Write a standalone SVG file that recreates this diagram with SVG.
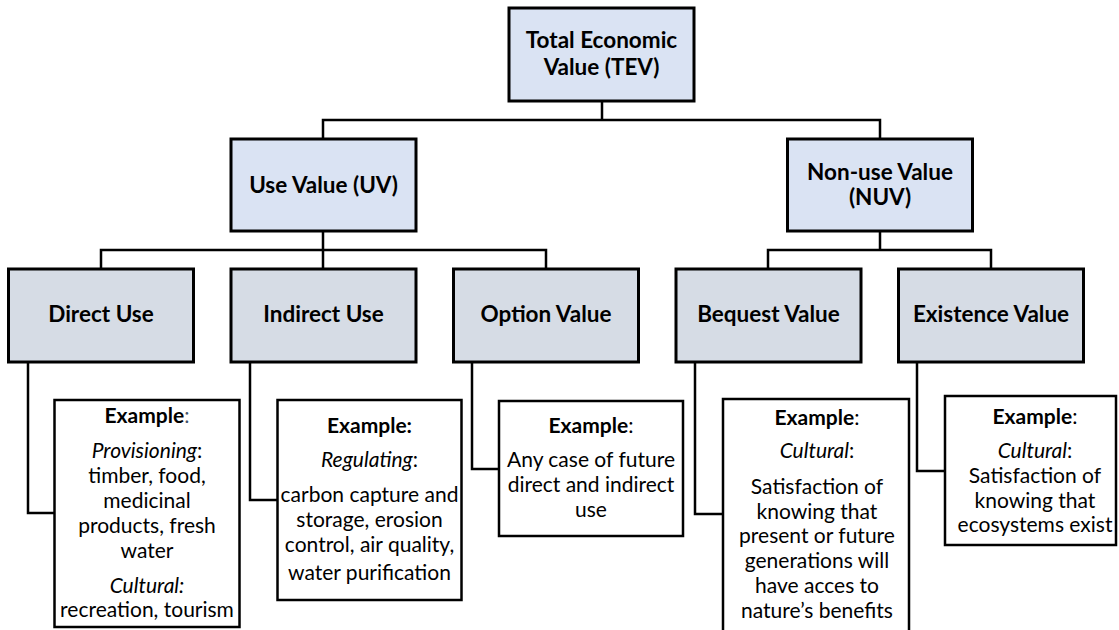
<svg xmlns="http://www.w3.org/2000/svg" width="1119" height="630" viewBox="0 0 1119 630">
<style>
.b1{fill:#dae3f3;stroke:#000;stroke-width:3}
.b2{fill:#d6dce5;stroke:#000;stroke-width:3}
.ex{fill:#fff;stroke:#000;stroke-width:2.5}
.c{fill:none;stroke:#000;stroke-width:2.5}
.h{font-family:Lato,"Liberation Sans",sans-serif;font-weight:bold;font-size:22.5px;fill:#000;text-anchor:middle}
.t{font-family:Lato,"Liberation Sans",sans-serif;font-size:21px;fill:#000;text-anchor:middle}
.bd{font-weight:bold}
.it{font-style:italic}
</style>
<rect width="1119" height="630" fill="#fff"/>
<g id="connectors">
<path class="c" d="M602,101V120M323,139V120H880V139"/>
<path class="c" d="M323,231V250M101,269V250H546V269M323,250V269"/>
<path class="c" d="M880,231V250M768,269V250H991V269"/>
<path class="c" d="M28,362V513H55"/>
<path class="c" d="M250,362V500H278"/>
<path class="c" d="M472,362V469H499"/>
<path class="c" d="M695,362V514H723"/>
<path class="c" d="M917,362V471H945"/>
</g>
<g id="tev"><rect class="b1" x="509" y="8" width="185" height="93"/>
<text class="h" x="601.5" y="48">Total Economic</text><text class="h" x="601.5" y="75">Value (TEV)</text></g>
<g id="uv"><rect class="b1" x="231" y="139" width="185" height="92"/>
<text class="h" x="323.5" y="192.5">Use Value (UV)</text></g>
<g id="nuv"><rect class="b1" x="787.5" y="139" width="185" height="92"/>
<text class="h" x="880" y="180">Non-use Value</text><text class="h" x="880" y="205">(NUV)</text></g>
<g id="direct"><rect class="b2" x="8.5" y="269" width="185" height="93"/>
<text class="h" x="101" y="322">Direct Use</text></g>
<g id="indirect"><rect class="b2" x="231" y="269" width="185" height="93"/>
<text class="h" x="323.5" y="322">Indirect Use</text></g>
<g id="option"><rect class="b2" x="453.5" y="269" width="185" height="93"/>
<text class="h" x="546" y="322">Option Value</text></g>
<g id="bequest"><rect class="b2" x="676" y="269" width="185" height="93"/>
<text class="h" x="768.5" y="322">Bequest Value</text></g>
<g id="existence"><rect class="b2" x="898.5" y="269" width="185" height="93"/>
<text class="h" x="991" y="322">Existence Value</text></g>
<g id="ex-direct"><rect class="ex" x="54.5" y="400" width="185" height="227"/>
<text class="t" x="147" y="423"><tspan class="bd">Example</tspan><tspan fill="#44546a">:</tspan></text>
<text class="t" x="147" y="458"><tspan class="it">Provisioning</tspan>:</text>
<text class="t" x="147" y="483">timber, food,</text>
<text class="t" x="147" y="508">medicinal</text>
<text class="t" x="147" y="533">products, fresh</text>
<text class="t" x="147" y="558">water</text>
<text class="t it" x="147" y="593">Cultural:</text>
<text class="t" x="147" y="617">recreation, tourism</text></g>
<g id="ex-indirect"><rect class="ex" x="277.5" y="400" width="184" height="200"/>
<text class="t bd" x="369.5" y="432.5">Example:</text>
<text class="t" x="369.5" y="466.5"><tspan class="it">Regulating</tspan>:</text>
<text class="t" x="369.5" y="501.5">carbon capture and</text>
<text class="t" x="369.5" y="526.5">storage, erosion</text>
<text class="t" x="369.5" y="551.5">control, air quality,</text>
<text class="t" x="369.5" y="580">water purification</text></g>
<g id="ex-option"><rect class="ex" x="499" y="401" width="184" height="135"/>
<text class="t" x="591" y="433"><tspan class="bd">Example</tspan>:</text>
<text class="t" x="591" y="466.5">Any case of future</text>
<text class="t" x="591" y="492">direct and indirect</text>
<text class="t" x="591" y="516.5">use</text></g>
<g id="ex-bequest"><rect class="ex" x="723" y="399" width="186" height="245"/>
<text class="t" x="817" y="425"><tspan class="bd">Example</tspan>:</text>
<text class="t" x="817" y="458"><tspan class="it">Cultural</tspan>:</text>
<text class="t" x="817" y="494">Satisfaction of</text>
<text class="t" x="817" y="519">knowing that</text>
<text class="t" x="817" y="543">present or future</text>
<text class="t" x="817" y="568">generations will</text>
<text class="t" x="817" y="593">have acces to</text>
<text class="t" x="817" y="618">nature’s benefits</text></g>
<g id="ex-existence"><rect class="ex" x="945" y="396" width="171" height="149"/>
<text class="t" x="1035" y="424"><tspan class="bd">Example</tspan>:</text>
<text class="t" x="1035" y="458"><tspan class="it">Cultural</tspan>:</text>
<text class="t" x="1035" y="483">Satisfaction of</text>
<text class="t" x="1035" y="508">knowing that</text>
<text class="t" x="1035" y="532">ecosystems exist</text></g>
</svg>
